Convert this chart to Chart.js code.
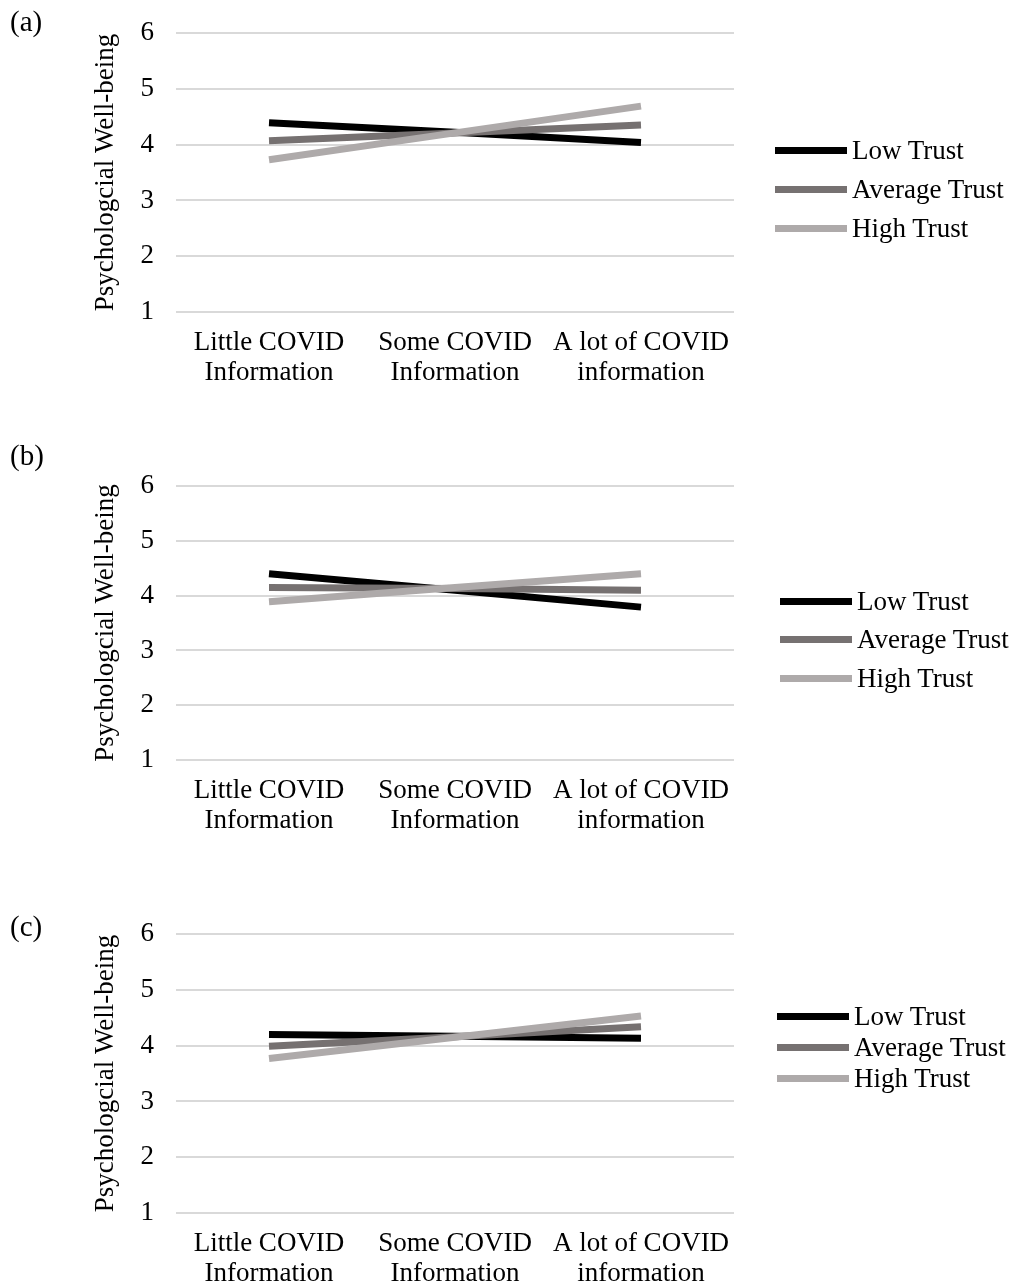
<!DOCTYPE html>
<html lang="en">
<head>
<meta charset="UTF-8">
<title>Psychological Well-being by COVID Information and Trust</title>
<script src="https://cdn.jsdelivr.net/npm/chart.js"></script>
<style>
  body {
    margin: 0;
    background: #fff;
    overflow: hidden;
    font-family: 'Liberation Serif', 'Times New Roman', serif;
    color: #000;
  }
  .panel { position: absolute; left: 0; width: 1026px; }
  .panel canvas { position: absolute; left: 0; top: 0; }
  .tag { position: absolute; left: 10px; font-size: 29px; line-height: 30px; }
  .legend { position: absolute; font-size: 27px; }
  .legend .row { position: absolute; left: 0; height: 30px; display: flex; align-items: center; white-space: nowrap; }
  .legend .swatch { width: 72px; height: 7px; margin-right: 5px; }
</style>
</head>
<body>
<script>
// categories along the x axis
const categories = [
  ['Little COVID', 'Information'],
  ['Some COVID', 'Information'],
  ['A lot of COVID', 'information']
];
const seriesNames = ['Low Trust', 'Average Trust', 'High Trust'];
const seriesColors = ['#000000', '#767171', '#aeaaaa'];
const yTicks = [1, 2, 3, 4, 5, 6];
const yTitle = 'Psychologcial Well-being';

// (a)
const lowA = [4.39, 4.22, 4.04];
const avgA = [4.07, 4.21, 4.35];
const highA = [3.73, 4.21, 4.69];
// (b)
const lowB = [4.40, 4.10, 3.79];
const avgB = [4.15, 4.13, 4.10];
const highB = [3.89, 4.15, 4.40];
// (c)
const lowC = [4.20, 4.17, 4.13];
const avgC = [3.99, 4.16, 4.34];
const highC = [3.77, 4.15, 4.53];

Chart.defaults.font.family = "'Liberation Serif', 'Times New Roman', serif";
Chart.defaults.font.size = 27;
Chart.defaults.color = '#000';

const panels = [
  { tag: '(a)', series: [lowA, avgA, highA], top: 0,   height: 417, padTop: 33, padBottom: 13, tagY: 6,   legendX: 775, legendRows: [150, 189, 228] },
  { tag: '(b)', series: [lowB, avgB, highB], top: 453, height: 417, padTop: 33, padBottom: 18, tagY: -13, legendX: 780, legendRows: [148, 186, 225] },
  { tag: '(c)', series: [lowC, avgC, highC], top: 901, height: 404, padTop: 33, padBottom: 0,  tagY: 10,  legendX: 777, legendRows: [115, 146, 177] }
];

panels.forEach(function (p) {
  const wrap = document.createElement('div');
  wrap.className = 'panel';
  wrap.style.top = p.top + 'px';
  wrap.style.height = p.height + 'px';
  document.body.appendChild(wrap);

  const canvas = document.createElement('canvas');
  canvas.width = 1026;
  canvas.height = p.height;
  wrap.appendChild(canvas);

  const tag = document.createElement('div');
  tag.className = 'tag';
  tag.style.top = p.tagY + 'px';
  tag.textContent = p.tag;
  wrap.appendChild(tag);

  const datasets = seriesNames.map(function (name, i) {
    return {
      label: name,
      data: p.series[i],
      borderColor: seriesColors[i],
      backgroundColor: seriesColors[i],
      borderWidth: 7,
      pointRadius: 0,
      tension: 0,
      order: seriesNames.length - i
    };
  });

  new Chart(canvas.getContext('2d'), {
    type: 'line',
    data: { labels: categories, datasets: datasets },
    options: {
      responsive: false,
      animation: false,
      layout: { padding: { top: p.padTop, bottom: p.padBottom, left: 0, right: 292 } },
      plugins: { legend: { display: false }, tooltip: { enabled: false } },
      scales: {
        x: {
          offset: true,
          grid: { display: false, drawTicks: false },
          border: { display: false },
          ticks: { padding: 16, maxRotation: 0, font: { size: 27, lineHeight: 1.11 } }
        },
        y: {
          min: yTicks[0],
          max: yTicks[yTicks.length - 1],
          // small lineHeight so the label padding doesn't push the plot down
          ticks: { stepSize: 1, padding: 22, font: { size: 27, lineHeight: 0.5 } },
          grid: { color: '#d9d9d9', lineWidth: 2, drawTicks: false },
          border: { display: false },
          title: { display: true, text: yTitle, font: { size: 27 }, padding: { top: 90, bottom: 0 } },
          afterFit: function (scale) { scale.width = 176; }
        }
      }
    }
  });

  // legend built from the same series
  const legend = document.createElement('div');
  legend.className = 'legend';
  legend.style.left = p.legendX + 'px';
  legend.style.top = '0px';
  seriesNames.forEach(function (name, i) {
    const row = document.createElement('div');
    row.className = 'row';
    row.style.top = (p.legendRows[i] - 15) + 'px';
    const sw = document.createElement('div');
    sw.className = 'swatch';
    sw.style.background = seriesColors[i];
    const txt = document.createElement('span');
    txt.textContent = name;
    row.appendChild(sw);
    row.appendChild(txt);
    legend.appendChild(row);
  });
  wrap.appendChild(legend);
});
</script>
</body>
</html>
